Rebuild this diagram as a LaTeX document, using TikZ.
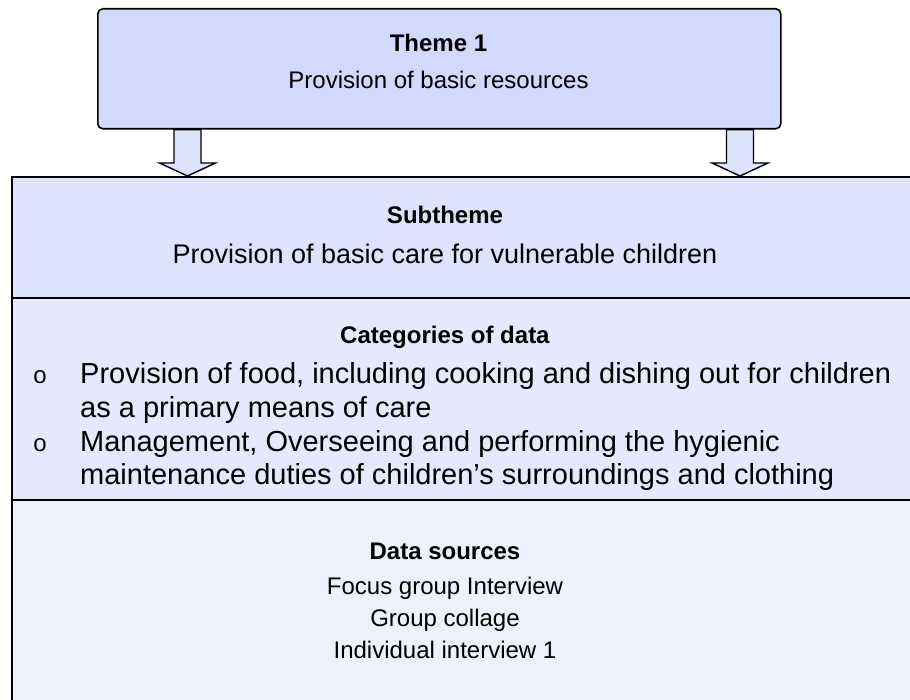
\documentclass[tikz,border=0pt]{standalone}
\usepackage{fontspec}
\setmainfont{Liberation Sans}
\usetikzlibrary{calc}
\definecolor{themefill}{HTML}{D1D9FD}
\definecolor{subfill}{HTML}{DDE2FD}
\definecolor{catfill}{HTML}{E6E9FD}
\definecolor{srcfill}{HTML}{EEF0FD}
\tikzset{
x=1pt, y=-1pt,
every node/.style={font=\fontsize{24}{33}\selectfont, inner sep=0pt, text=black},
themebox/.style={%
    rectangle,
    rounded corners=5pt,
    draw=black,
    line width=1.6pt,
    fill=themefill,
    anchor=north west
},
band/.style={%
    rectangle,
    draw=black,
    line width=1.6pt,
    anchor=north west,
    minimum width=940
},
lbl/.style={anchor=base},
bodytext/.style={anchor=base, font=\fontsize{27}{32}\selectfont},
item/.style={anchor=base west, align=left, font=\fontsize{29}{33}\selectfont},
bullet/.style={anchor=base},
fatarrow/.style={line width=1.4pt, draw=black, fill=subfill, to path={
    let \p1=(\tikztostart), \p2=(\tikztotarget) in
    (\x1-13.5pt,\y1) -- (\x1-13.5pt,\y2+13pt) -- (\x1-28pt,\y2+13pt) -- (\x1,\y2)
    -- (\x1+28pt,\y2+13pt) -- (\x1+13.5pt,\y2+13pt) -- (\x1+13.5pt,\y1) -- cycle}},
}

\begin{document}
\begin{tikzpicture}
	\useasboundingbox (0,0) rectangle (910,700);
	\clip (0,0) rectangle (910,700);

	% theme box
	\node[themebox, minimum width=683, minimum height=120] (theme) at (97,8) {};
	\node[lbl] (thm) at (438.5,52) {\textbf{Theme 1}};
	\node[lbl] (thmtext) at (438.5,89) {Provision of basic resources};

	% lower table
	\node[band, fill=subfill, minimum height=121] (sub) at (11,176) {};
	\node[band, fill=catfill, minimum height=202] (cat) at (11,297) {};
	\node[band, fill=srcfill, minimum height=230] (src) at (11,499) {};

	\node[lbl] (subhead) at (445,224) {\textbf{Subtheme}};
	\node[bodytext] (subtext) at (445,264) {Provision of basic care for vulnerable children};

	\node[lbl] (cathead) at (445,344) {\textbf{Categories of data}};
	\node[bullet] (b1) at (40,384) {o};
	\node[item] (c1) at (80,417) {Provision of food, including cooking and dishing out for children\\as a primary means of care};
	\node[bullet] (b2) at (40,451) {o};
	\node[item] (c2) at (80,484) {Management, Overseeing and performing the hygienic\\maintenance duties of children’s surroundings and clothing};

	\node[lbl] (srchead) at (445,559) {\textbf{Data sources}};
	\node[lbl, align=center, font=\fontsize{24}{32}\selectfont] (srctext) at (445,658) {Focus group Interview\\Group collage\\Individual interview 1};

	% arrows
	\coordinate (la) at (187.5,0);
	\coordinate (ra) at (740,0);
	\draw[fatarrow] (theme.south -| la) to (sub.north -| la);
	\draw[fatarrow] (theme.south -| ra) to (sub.north -| ra);
\end{tikzpicture}
\end{document}
